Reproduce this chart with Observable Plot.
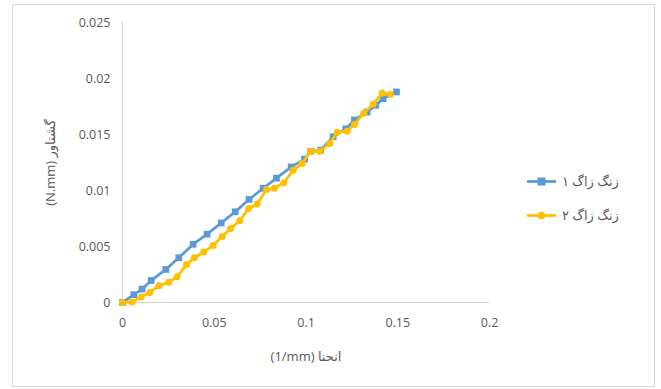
<!DOCTYPE html>
<html>
<head>
<meta charset="utf-8">
<script src="https://cdn.jsdelivr.net/npm/d3@7"></script>
<script src="https://cdn.jsdelivr.net/npm/@observablehq/plot@0.6"></script>
<style>
  html, body { margin: 0; padding: 0; background: #fff; }
  #wrap { position: relative; width: 661px; height: 389px; font-family: "Open Sans", "DejaVu Sans", sans-serif; }
  #frame { position: absolute; left: 12px; top: 4px; width: 641px; height: 381px; border: 1px solid #d9d9d9; pointer-events: none; }
  #legend { position: absolute; left: 527px; top: 164px; font-size: 13px; color: #595959; }
  .item { display: flex; align-items: center; height: 34px; }
  .item svg { margin-right: 6px; }
</style>
</head>
<body>
<div id="wrap">
  <div id="chart"></div>
  <div id="frame"></div>
  <div id="legend"></div>
</div>
<script>
const seriesNames = ["زنگ زاگ ۱", "زنگ زاگ ۲"];
const seriesColors = ["#5b9bd5", "#ffc000"];

const x1 = [0, 0.0062, 0.0107, 0.0156, 0.0236, 0.0307, 0.0385, 0.0461, 0.0538, 0.0614, 0.069, 0.0767, 0.0839, 0.0919, 0.0992, 0.1025, 0.108, 0.1148, 0.1217, 0.1264, 0.1333, 0.1379, 0.142, 0.1493];
const y1 = [0, 0.0007, 0.0012, 0.00196, 0.00295, 0.0040, 0.0052, 0.0061, 0.0071, 0.0081, 0.0092, 0.0102, 0.0111, 0.0121, 0.0128, 0.0135, 0.0136, 0.0148, 0.0155, 0.0163, 0.0170, 0.0176, 0.0182, 0.0188];

const x2 = [0, 0.0053, 0.0102, 0.0149, 0.0198, 0.0252, 0.0298, 0.0349, 0.0392, 0.0443, 0.0494, 0.0543, 0.0589, 0.0639, 0.0688, 0.0734, 0.0785, 0.0828, 0.0879, 0.093, 0.0979, 0.1025, 0.1075, 0.113, 0.117, 0.1224, 0.1264, 0.1315, 0.1366, 0.1415, 0.146];
const y2 = [0, 0.00005, 0.0005, 0.0009, 0.0015, 0.0018, 0.0023, 0.0034, 0.0040, 0.0045, 0.0051, 0.0059, 0.0066, 0.0073, 0.0084, 0.0088, 0.0101, 0.0102, 0.0107, 0.0118, 0.0124, 0.0135, 0.0135, 0.0142, 0.0152, 0.0153, 0.0159, 0.0169, 0.0177, 0.0187, 0.0186];

const xTicks = [0, 0.05, 0.1, 0.15, 0.2];
const yTicks = [0, 0.005, 0.01, 0.015, 0.02, 0.025];
const xLabel = "(1/mm) انحنا";
const yLabel = "(N.mm) گشتاور";

const s1 = x1.map((x, i) => ({x, y: y1[i]}));
const s2 = x2.map((x, i) => ({x, y: y2[i]}));

const chart = Plot.plot({
  width: 661,
  height: 389,
  marginLeft: 122,
  marginRight: 172,
  marginTop: 22,
  marginBottom: 87,
  style: { fontFamily: "'Open Sans', 'DejaVu Sans', sans-serif", fontSize: "12px", color: "#595959", background: "transparent" },
  x: { domain: [0, 0.2] },
  y: { domain: [0, 0.025] },
  marks: [
    Plot.ruleX([0], { stroke: "#d0d0d0", strokeWidth: 1 }),
    Plot.ruleY([0], { stroke: "#d0d0d0", strokeWidth: 1 }),
    Plot.axisX({ ticks: xTicks, tickFormat: d => String(d), tickSize: 0, tickPadding: 16, fontSize: 12.5, fill: "#595959",
      label: null }),
    Plot.axisX({ ticks: [], label: xLabel, labelAnchor: "center", labelOffset: 58, labelArrow: "none", fontSize: 13, fill: "#595959", tickSize: 0 }),
    Plot.axisY({ ticks: yTicks, tickFormat: d => String(d), tickSize: 0, tickPadding: 12, fontSize: 12.5, fill: "#595959",
      label: null }),
    Plot.axisY({ ticks: [], label: yLabel, labelAnchor: "center", labelOffset: 77, labelArrow: "none", fontSize: 13, fill: "#595959", tickSize: 0 }),
    Plot.line(s1, { x: "x", y: "y", stroke: seriesColors[0], strokeWidth: 2.75 }),
    Plot.dot(s1, { x: "x", y: "y", symbol: "square", r: 3.8, fill: seriesColors[0], stroke: "none" }),
    Plot.line(s2, { x: "x", y: "y", stroke: seriesColors[1], strokeWidth: 2.75 }),
    Plot.dot(s2, { x: "x", y: "y", symbol: "circle", r: 3.5, fill: seriesColors[1], stroke: "none" })
  ]
});
document.getElementById("chart").appendChild(chart);

const legend = document.getElementById("legend");
seriesNames.forEach((name, i) => {
  const item = document.createElement("div");
  item.className = "item";
  const sym = i === 0
    ? `<rect x="10.5" y="1.5" width="8" height="8" fill="${seriesColors[i]}"/>`
    : `<circle cx="14.5" cy="5.5" r="3.8" fill="${seriesColors[i]}"/>`;
  item.innerHTML = `<svg width="29" height="11"><line x1="0" x2="29" y1="5.5" y2="5.5" stroke="${seriesColors[i]}" stroke-width="2.75"/>${sym}</svg><span>${name}</span>`;
  legend.appendChild(item);
});
</script>
</body>
</html>
